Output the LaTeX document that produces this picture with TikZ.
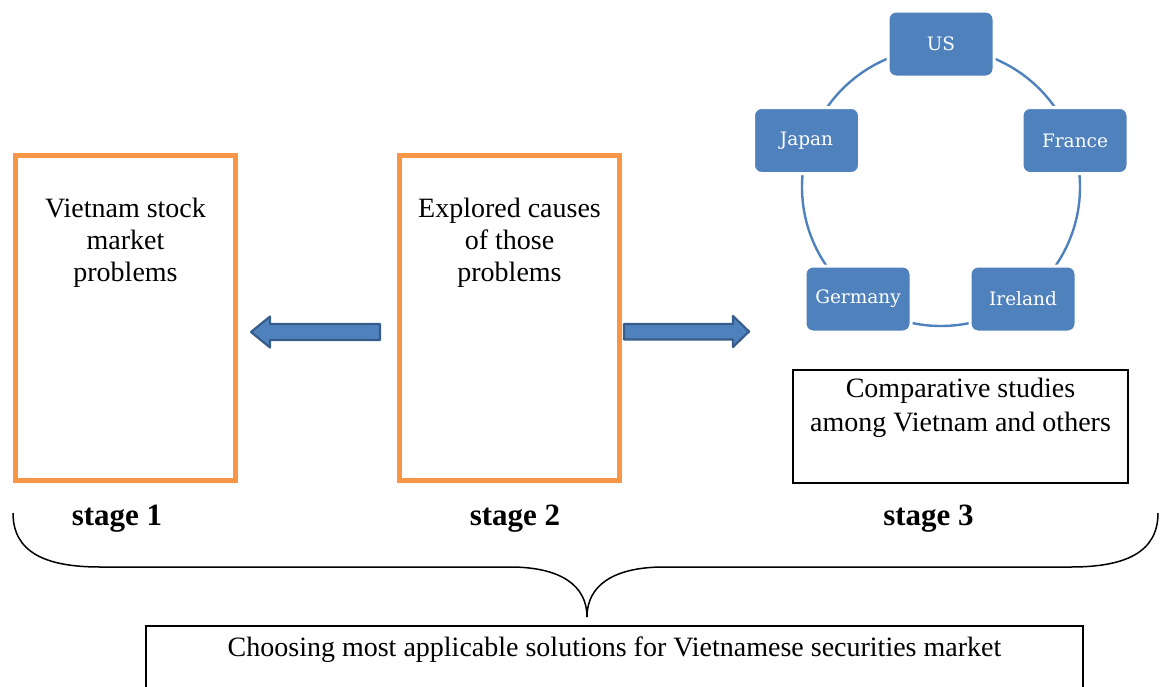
\documentclass[tikz,border=0pt]{standalone}
\usepackage{fontspec}
\setmainfont{Liberation Serif}
\newfontfamily\boxfont{DejaVu Serif}
\usetikzlibrary{calc}

\definecolor{stageorange}{HTML}{F79646}
\definecolor{accentblue}{HTML}{4F81BD}
\definecolor{accentdark}{HTML}{385D8A}

\tikzset{
  stagebox/.style={draw=stageorange, line width=5pt, minimum width=220pt, minimum height=325pt, inner sep=0pt},
  bodytext/.style={align=center, inner sep=0pt, font=\fontsize{28}{32}\selectfont},
  stagelabel/.style={inner sep=0pt, font=\fontsize{31}{36}\selectfont\bfseries},
  blockarrow/.style={draw=accentdark, fill=accentblue, line width=2.2pt, line join=round},
  country/.style={draw=white, line width=3pt, fill=accentblue, rounded corners=8pt, text=white,
                  minimum width=106pt, minimum height=66pt, inner sep=0pt, font=\boxfont\fontsize{18.5}{20}\selectfont},
  ring/.style={draw=accentblue, line width=2.4pt},
  plainbox/.style={draw=black, line width=1.5pt, inner sep=0pt},
  bracepath/.style={draw=black, line width=1.5pt},
}

\begin{document}
\begin{tikzpicture}[x=1pt, y=-1pt]
\useasboundingbox (0,0) rectangle (1160,686);

% stage 1 and stage 2 frames
\node[stagebox] (s1) at (125.5,318) {};
\node[stagebox] (s2) at (509.5,318) {};
\node[bodytext, anchor=north] (t1) at (125.5,198) {Vietnam stock\\market\\problems};
\node[bodytext, anchor=north] (t2) at (509.5,198) {Explored causes\\of those\\problems};

% block arrows between the stages
\draw[blockarrow] (251,332) -- (270,316.5) -- (270,324) -- (380,324) -- (380,340)
  -- (270,340) -- (270,347.5) -- cycle;
\draw[blockarrow] (624,324) -- (733,324) -- (733,316) -- (749,331.5) -- (733,347)
  -- (733,339.5) -- (624,339.5) -- cycle;

% cycle of countries
\coordinate (ringc) at (941,187);
\draw[ring] (ringc) circle[radius=139pt];
\node[country] (us) at (941,44) {US};
\node[country] (jp) at (806.5,140.5) {Japan};
\node[country] (fr) at (1075,140.5) {France};
\node[country] (de) at (858,299) {Germany};
\node[country] (ie) at (1023,299) {Ireland};

% stage 3 box
\node[plainbox, minimum width=335pt, minimum height=113pt] (s3) at (960.5,426.5) {};
\node[bodytext, anchor=north, font=\fontsize{28}{34}\selectfont] (t3) at (960.5,377.5) {Comparative studies\\among Vietnam and others};

% stage labels
\node[stagelabel, anchor=base] (l1) at (117,525) {stage 1};
\node[stagelabel, anchor=base] (l2) at (515,525) {stage 2};
\node[stagelabel, anchor=base] (l3) at (928.5,525) {stage 3};

% summarising brace
\coordinate (bl) at (13,513);
\coordinate (br) at (1158,513);
\coordinate (btip) at (587,617);
\draw[bracepath] (bl) .. controls (13,552) and (45,567) .. (100,567) -- (510,567)
  .. controls (560,567) and (587,585) .. (btip);
\draw[bracepath] (btip) .. controls (587,585) and (614,567) .. (664,567) -- (1071,567)
  .. controls (1126,567) and (1158,552) .. (br);

% final outcome box, running past the lower edge
\draw[black, line width=2pt] (146,700) -- (146,626) -- (1083,626) -- (1083,700);
\node[bodytext, anchor=base] (t4) at (614.5,656) {Choosing most applicable solutions for Vietnamese securities market};
\end{tikzpicture}
\end{document}
